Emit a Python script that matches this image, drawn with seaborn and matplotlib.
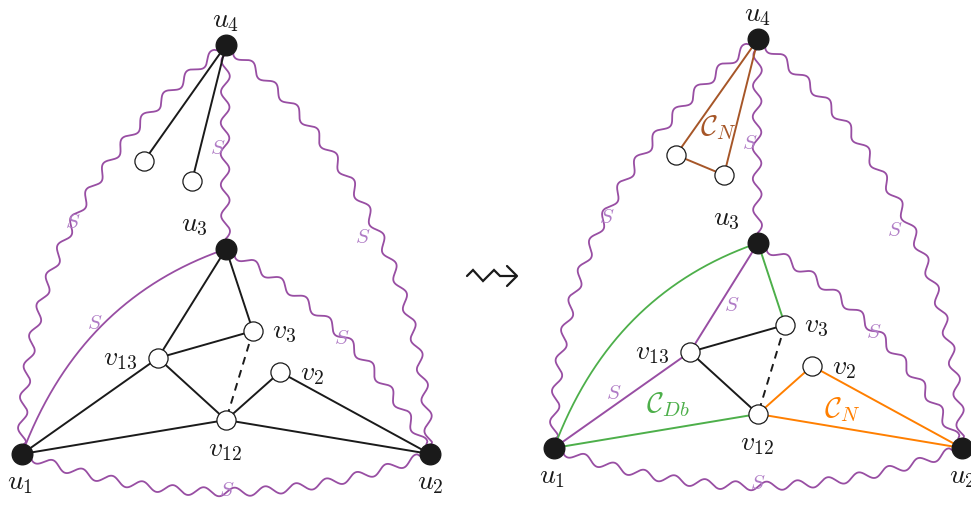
import numpy as np
import pandas as pd
import seaborn as sns
import matplotlib
matplotlib.use('Agg')
import matplotlib.pyplot as plt

sns.set_theme(style='white')
plt.rcParams['mathtext.fontset'] = 'cm'
plt.rcParams['font.family'] = ['DejaVu Sans']

pal = sns.color_palette('Set1')
purple, green, orange, brown = pal[3], pal[2], pal[4], pal[6]
s_color = '#b07cc6'

# vertices of the left drawing (pixel coords); the right drawing is the same graph shifted
names = ['u1', 'u2', 'u3', 'u4', 'v3', 'v13', 'v2', 'v12', 'w1', 'w2']
node_x = [22, 430, 226, 226, 253, 158, 280, 226, 144, 192]
node_y = [455, 455, 250, 46, 332, 359, 373, 421, 162, 182]
filled = [True, True, True, True, False, False, False, False, False, False]
shift = (532, -6)

labels = ['u_1', 'u_2', 'u_3', 'u_4', 'v_3', 'v_{13}', 'v_2', 'v_{12}']
label_x = [20, 430, 194, 226, 284, 120, 312, 225]
label_y = [482, 482, 224, 20, 331, 358, 373, 449]

# edges: (a, b, colour on left, colour on right, dashed)
edges = [
    ('u4', 'w1', 'k', brown, False),
    ('u4', 'w2', 'k', brown, False),
    ('w1', 'w2', None, brown, False),
    ('u3', 'v13', 'k', purple, False),
    ('u3', 'v3', 'k', green, False),
    ('v13', 'v3', 'k', 'k', False),
    ('v13', 'u1', 'k', purple, False),
    ('v13', 'v12', 'k', 'k', False),
    ('u1', 'v12', 'k', green, False),
    ('v12', 'v2', 'k', orange, False),
    ('v2', 'u2', 'k', orange, False),
    ('v12', 'u2', 'k', orange, False),
    ('v3', 'v12', 'k', 'k', True),
]

# snake (wavy) paths of S: endpoints and quadratic control point
snakes = [
    ('u4', 'u1', (20, 200)),
    ('u4', 'u2', (420, 200)),
    ('u4', 'u3', (224, 150)),
    ('u3', 'u2', (352, 317)),
    ('u1', 'u2', (226, 531)),
]
arc_ctrl = (80, 300)  # smooth u1-u3 curve

s_left_x = [73, 218, 363, 95, 342, 227]
s_left_y = [222, 148, 237, 323, 338, 490]
s_right_x = [607, 750, 895, 732, 614, 874, 758]
s_right_y = [217, 143, 230, 305, 393, 332, 483]

cal_text = [r'$\mathcal{C}_N$', r'$\mathcal{C}_{Db}$', r'$\mathcal{C}_N$']
cal_x = [718, 668, 842]
cal_y = [128, 405, 410]
cal_col = [brown, green, orange]

pos = {n: np.array([x, y], float) for n, x, y in zip(names, node_x, node_y)}


def bezier(p0, c, p1, n=800):
    t = np.linspace(0, 1, n)[:, None]
    return (1 - t) ** 2 * p0 + 2 * (1 - t) * t * np.asarray(c, float) + t ** 2 * p1


def snake(p0, c, p1, amp=4.3, lam=31.0):
    pts = bezier(p0, c, p1)
    s = np.concatenate([[0], np.cumsum(np.hypot(*np.diff(pts, axis=0).T))])
    d = np.gradient(pts, axis=0)
    tang = d / np.hypot(d[:, 0], d[:, 1])[:, None]
    nrm = np.stack([-tang[:, 1], tang[:, 0]], axis=1)
    L = s[-1]
    env = np.clip(np.minimum(s - 8, L - 8 - s) / 4, 0, 1)
    off = amp * np.sin(2 * np.pi * (s - 8) / lam) * env
    return pts + nrm * off[:, None]


fig = plt.figure(figsize=(9.71, 5.06), dpi=100)
ax = fig.add_axes([0, 0, 1, 1])

for side in (0, 1):
    dx, dy = (0, 0) if side == 0 else shift
    off = np.array([dx, dy], float)
    P = {k: v + off for k, v in pos.items()}

    for a, b, c in snakes:
        w = snake(P[a], np.asarray(c) + off, P[b])
        ax.plot(w[:, 0], w[:, 1], color=purple, lw=1.3, zorder=2)

    arc = bezier(P['u1'], np.asarray(arc_ctrl) + off, P['u3'])
    ax.plot(arc[:, 0], arc[:, 1], color=purple if side == 0 else green, lw=1.3, zorder=2)

    for a, b, cl, cr, dashed in edges:
        col = cl if side == 0 else cr
        if col is None:
            continue
        ax.plot([P[a][0], P[b][0]], [P[a][1], P[b][1]], color=col, lw=1.4,
                ls=(0, (4, 3)) if dashed else '-', zorder=3)

    nodes = pd.DataFrame({'x': np.array(node_x) + dx, 'y': np.array(node_y) + dy,
                          'filled': filled})
    sns.scatterplot(data=nodes[nodes.filled], x='x', y='y', color='k', s=220,
                    edgecolor='k', linewidth=1, zorder=5, ax=ax, legend=False)
    sns.scatterplot(data=nodes[~nodes.filled], x='x', y='y', color='white', s=190,
                    edgecolor='k', linewidth=0.9, zorder=5, ax=ax, legend=False)

    for t, x, y in zip(labels, label_x, label_y):
        ax.text(x + dx, y + dy, '$' + t + '$', fontsize=20, ha='center', va='center',
                color='k', zorder=6)

for x, y in zip(s_left_x + s_right_x, s_left_y + s_right_y):
    ax.text(x, y, '$S$', fontsize=15, ha='center', va='center', color=s_color, zorder=6)

for t, x, y, c in zip(cal_text, cal_x, cal_y, cal_col):
    ax.text(x, y, t, fontsize=21, ha='center', va='center', color=c, zorder=6)

# squiggly arrow between the two drawings
zz_x = [467, 473, 483, 494, 500, 516]
zz_y = [277, 271, 282, 271, 277, 277]
ax.plot(zz_x, zz_y, color='k', lw=1.6, zorder=3, solid_joinstyle='miter')
head_x = [507, 517, 507]
head_y = [267, 277, 287]
ax.plot(head_x, head_y, color='k', lw=1.6, zorder=3)

ax.set_xlim(0, 971)
ax.set_ylim(506, 0)
ax.axis('off')
fig.savefig('out.png', dpi=100)
plt.close(fig)
